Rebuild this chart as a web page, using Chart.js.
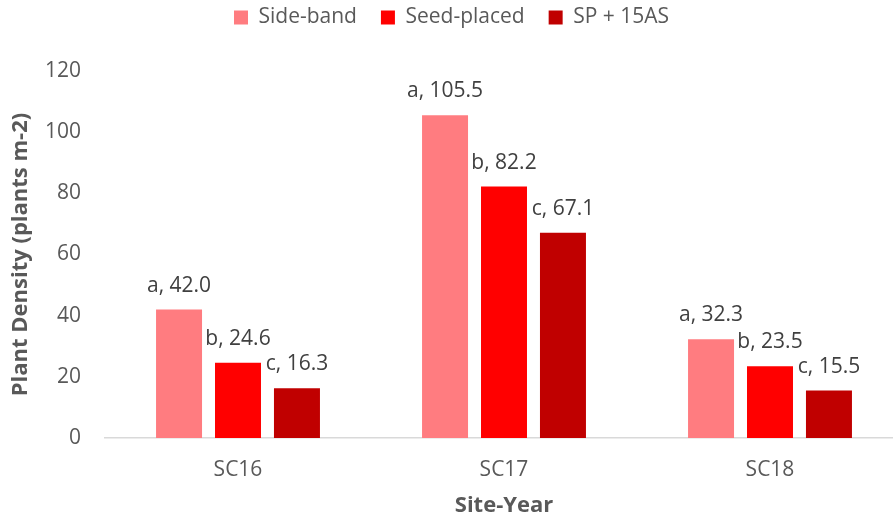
<!DOCTYPE html>
<html>
<head>
<meta charset="utf-8">
<script src="https://cdn.jsdelivr.net/npm/chart.js@4/dist/chart.umd.min.js"></script>
<style>
  html, body { margin: 0; padding: 0; background: #fff; overflow: hidden; }
  #wrap { width: 905px; height: 521px; }
</style>
</head>
<body>
<div id="wrap"><canvas id="chart" width="905" height="521"></canvas></div>
<script>
// data
const siteYears = ["SC16", "SC17", "SC18"];
const sideBand = [42.0, 105.5, 32.3];
const seedPlaced = [24.6, 82.2, 23.5];
const sp15AS = [16.3, 67.1, 15.5];
const sideBandLetters = ["a", "a", "a"];
const seedPlacedLetters = ["b", "b", "b"];
const sp15ASLetters = ["c", "c", "c"];

const FONT = "'Open Sans', sans-serif";
const GREY = "#595959";
const LEGEND_HEIGHT = 88;

// draws "a, 42.0" style labels over each bar
const barLabels = {
  id: "barLabels",
  afterDatasetsDraw(chart) {
    const ctx = chart.ctx;
    ctx.save();
    ctx.font = "21px " + FONT;
    ctx.fillStyle = "#404040";
    ctx.textAlign = "center";
    ctx.textBaseline = "middle";
    chart.data.datasets.forEach((ds, i) => {
      const meta = chart.getDatasetMeta(i);
      meta.data.forEach((bar, j) => {
        const txt = ds.letters[j] + ", " + ds.data[j].toFixed(1);
        ctx.fillText(txt, bar.x, bar.y - 24);
      });
    });
    ctx.restore();
  },
};

// fixed legend height so the plot starts where it does in the original
const legendSpace = {
  id: "legendSpace",
  beforeInit(chart) {
    const fit = chart.legend.fit;
    chart.legend.fit = function () {
      fit.call(this);
      this.height = LEGEND_HEIGHT;
    };
  },
};

new Chart(document.getElementById("chart").getContext("2d"), {
  type: "bar",
  data: {
    labels: siteYears,
    datasets: [
      { label: "Side-band", data: sideBand, letters: sideBandLetters, backgroundColor: "#FF7C80" },
      { label: "Seed-placed", data: seedPlaced, letters: seedPlacedLetters, backgroundColor: "#FF0000" },
      { label: "SP + 15AS", data: sp15AS, letters: sp15ASLetters, backgroundColor: "#C00000" },
    ],
  },
  options: {
    responsive: false,
    animation: false,
    layout: { padding: { left: 0, right: 2, top: -17, bottom: 0 } },
    datasets: {
      bar: { barPercentage: 0.78, categoryPercentage: 0.665 },
    },
    plugins: {
      tooltip: { enabled: false },
      legend: {
        position: "top",
        labels: {
          boxWidth: 14,
          boxHeight: 14,
          padding: 24,
          color: GREY,
          font: { family: FONT, size: 21 },
        },
      },
    },
    scales: {
      x: {
        grid: { display: false, drawTicks: false },
        border: { display: true, color: "#D9D9D9", width: 1.5 },
        ticks: { color: GREY, font: { family: FONT, size: 21 }, padding: 19 },
        title: {
          display: true,
          text: "Site-Year",
          color: GREY,
          font: { family: FONT, size: 22, weight: "bold" },
          padding: { top: 6, bottom: 2 },
        },
        afterFit(scale) { scale.height = 83; },
      },
      y: {
        min: 0,
        max: 120,
        grid: { display: false, drawTicks: false },
        border: { display: false },
        ticks: { stepSize: 20, color: GREY, font: { family: FONT, size: 21 }, padding: 24 },
        title: {
          display: true,
          text: "Plant Density (plants m-2)",
          color: GREY,
          font: { family: FONT, size: 22, weight: "bold" },
          padding: { top: 8, bottom: 0 },
        },
        afterFit(scale) { scale.width = 105; },
      },
    },
  },
  plugins: [barLabels, legendSpace],
});
</script>
</body>
</html>
